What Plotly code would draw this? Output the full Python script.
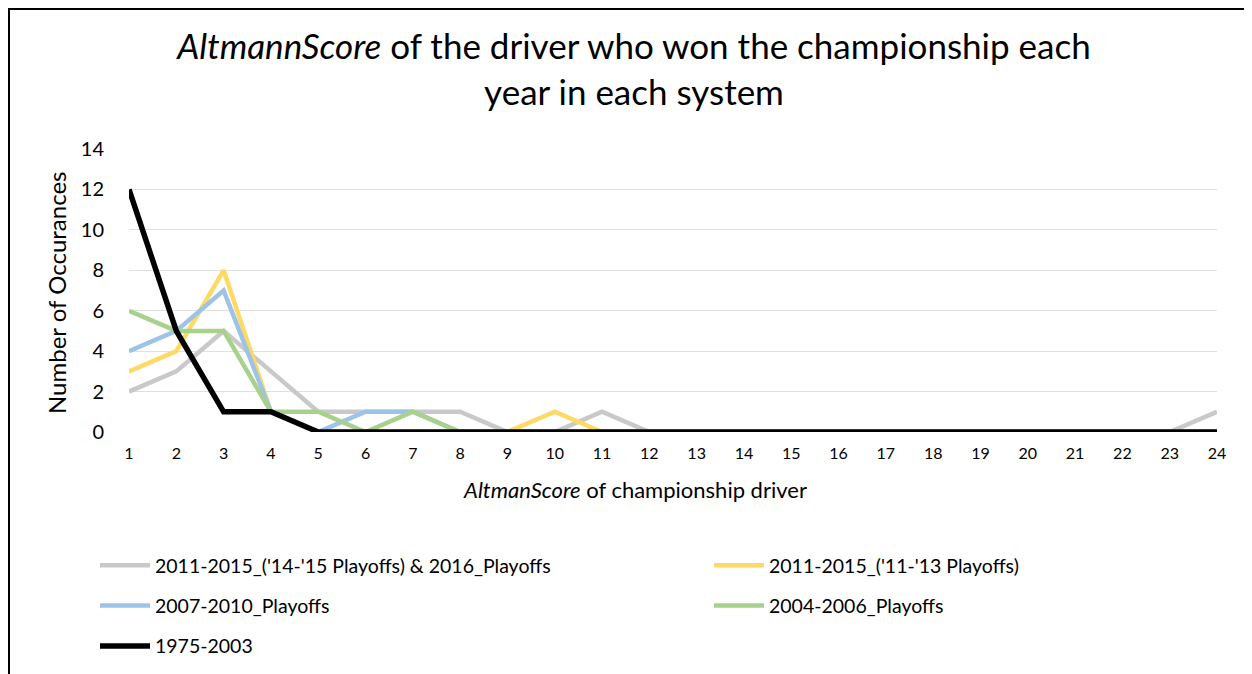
import plotly.graph_objects as go

# x categories: AltmanScore of the championship driver
scores = list(range(1, 25))

# occurrences per system
s_2011_2016 = [2, 3, 5, 3, 1, 1, 1, 1, 0, 0, 1, 0, 0, 0, 0, 0, 0, 0, 0, 0, 0, 0, 0, 1]
s_2011_2013 = [3, 4, 8, 1, 0, 0, 0, 0, 0, 1, 0, 0, 0, 0, 0, 0, 0, 0, 0, 0, 0, 0, 0, 0]
s_2007_2010 = [4, 5, 7, 1, 0, 1, 1, 0, 0, 0, 0, 0, 0, 0, 0, 0, 0, 0, 0, 0, 0, 0, 0, 0]
s_2004_2006 = [6, 5, 5, 1, 1, 0, 1, 0, 0, 0, 0, 0, 0, 0, 0, 0, 0, 0, 0, 0, 0, 0, 0, 0]
s_1975_2003 = [12, 5, 1, 1, 0, 0, 0, 0, 0, 0, 0, 0, 0, 0, 0, 0, 0, 0, 0, 0, 0, 0, 0, 0]

# name, values, colour, width, which legend column
series = [
	("2011-2015_('14-'15 Playoffs) & 2016_Playoffs", s_2011_2016, '#c9c9c9', 4.5, 'legend'),
	("2011-2015_('11-'13 Playoffs)", s_2011_2013, '#ffd966', 4.5, 'legend2'),
	("2007-2010_Playoffs", s_2007_2010, '#9dc3e6', 4.5, 'legend'),
	("2004-2006_Playoffs", s_2004_2006, '#a9d18e', 4.5, 'legend2'),
	("1975-2003", s_1975_2003, '#000000', 5.5, 'legend'),
]

FONT = 'Lato'
W, H = 1252, 674
OFF = 7  # page offset of the figure inside the window
# plot area in window pixels: x 128..1216, y 148..431
L, T = 128 - OFF, 148 - OFF
R, B = W - (1216 - OFF), H - (431 - OFF)
PW, PH = W - L - R, H - T - B


def px_x(p):
	return (p - OFF - L) / PW


def px_y(p):
	return (H - B - (p - OFF)) / PH


fig = go.Figure()
for i, (name, vals, color, w, leg) in enumerate(series):
	fig.add_trace(go.Scatter(
		x=scores, y=vals, name=name, mode='lines',
		line=dict(color=color, width=w),
		legend=leg, legendgroup=str(i),
	))

legend_style = dict(
	orientation='v', xanchor='left', yanchor='top',
	font=dict(size=19.5, family=FONT, color='#000000'),
	tracegroupgap=12, itemwidth=50, bgcolor='rgba(0,0,0,0)',
)

fig.update_layout(
	width=W, height=H,
	paper_bgcolor='white', plot_bgcolor='white',
	margin=dict(l=L, r=R, t=T, b=B, autoexpand=False),
	font=dict(family=FONT, color='#000000'),
	title=dict(
		text='<i>AltmannScore</i> of the driver who won the championship each<br>year in each system',
		x=0.5, xanchor='center', y=1 - 51 / H, yanchor='middle',
		font=dict(size=35, family=FONT, color='#000000'),
	),
	legend=dict(x=px_x(94), y=px_y(545), **legend_style),
	legend2=dict(x=px_x(708), y=px_y(545), **legend_style),
	showlegend=True,
)
fig.update_xaxes(
	range=[1, 24], tickmode='array', tickvals=scores,
	showgrid=False, showline=False, zeroline=False, automargin=False,
	tickfont=dict(size=16), ticks='', ticklabelstandoff=10,
)
fig.update_yaxes(
	range=[0, 14], dtick=2, showgrid=True, gridcolor='#e0e0e0', gridwidth=1,
	zeroline=False, showline=False, automargin=False,
	tickfont=dict(size=20), ticks='', ticklabelstandoff=24,
)
fig.add_annotation(
	text='<i>AltmanScore</i> of championship driver', xref='paper', yref='paper',
	x=px_x(634), y=px_y(488), xanchor='center', yanchor='middle',
	showarrow=False, font=dict(size=22, family=FONT),
)
fig.add_annotation(
	text='Number of Occurances', xref='paper', yref='paper', textangle=-90,
	x=px_x(55), y=px_y(292), xanchor='center', yanchor='middle',
	showarrow=False, font=dict(size=24, family=FONT),
)
# chart frame (left and top edges sit at the very edge of the figure)
fig.add_shape(type='rect', xref='paper', yref='paper',
	x0=px_x(OFF + 1), x1=px_x(1290), y0=px_y(720), y1=px_y(OFF + 1),
	line=dict(color='#000000', width=2), fillcolor='rgba(0,0,0,0)', layer='below')

fig.write_html("out.html")
